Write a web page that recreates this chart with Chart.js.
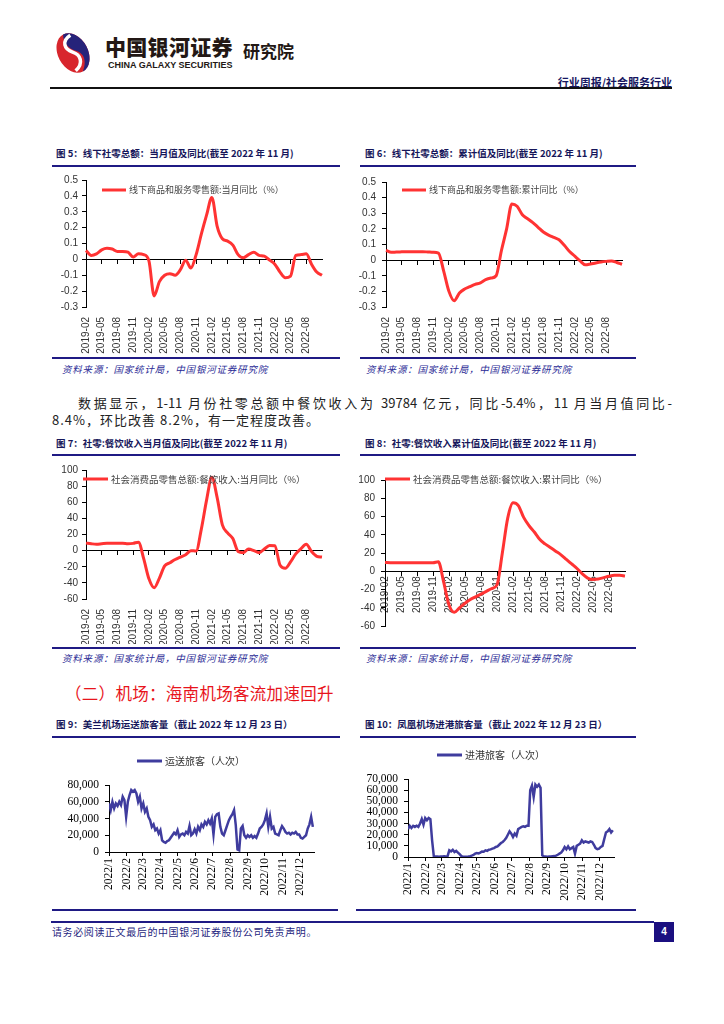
<!DOCTYPE html>
<html>
<head>
<meta charset="utf-8">
<script src="https://cdn.jsdelivr.net/npm/chart.js@4.4.0/dist/chart.umd.min.js"></script>
<style>
body { margin: 0; background: #fff; }
#page { position: relative; width: 724px; height: 1024px; overflow: hidden; font-family: "Noto Sans CJK SC", sans-serif; background: #fff; }
#page div, #page canvas, #page svg { position: absolute; }
.title { font-size: 9.5px; line-height: 13px; font-weight: bold; color: #16165a; white-space: nowrap; }
.rule { height: 2px; background: #1f1a84; }
.src { font-size: 9.5px; line-height: 12px; font-style: italic; color: #2a2a95; letter-spacing: 0.8px; white-space: nowrap; }
.para { font-size: 13px; line-height: 16px; color: #222; white-space: nowrap; letter-spacing: 1px; }
</style>
</head>
<body>
<div id="page">
  <svg style="left:50px;top:31px" width="46" height="44" viewBox="0 0 46 44">
    <g transform="rotate(-28 23 22)">
      <ellipse cx="23" cy="22" rx="15" ry="21" fill="#d8262d"/>
      <path d="M23 1 A15 21 0 0 1 23 43 C31 36 33 28 27 22 C21 16 19 8 23 1 Z" fill="#26237a"/>
      <path d="M29 5 C18 6 17 15 23 21 C29 27 28 36 17 39" stroke="#fff" stroke-width="3.5" fill="none"/>
    </g>
  </svg>
  <div style="left:105px;top:34px;font-size:21px;line-height:25px;font-weight:900;color:#231815;letter-spacing:0.3px;white-space:nowrap">中国银河证券</div>
  <div style="left:108px;top:60px;font-family:'Liberation Sans',Arial,sans-serif;font-size:9px;line-height:10px;font-weight:bold;color:#231815;white-space:nowrap">CHINA GALAXY SECURITIES</div>
  <div style="left:243px;top:41px;font-size:17px;line-height:20px;font-weight:bold;color:#231815;white-space:nowrap">研究院</div>
  <div style="right:52px;top:75px;font-size:11px;line-height:14px;font-weight:bold;color:#151560;white-space:nowrap">行业周报/社会服务行业</div>
  <div style="left:50px;top:87px;width:622px;height:2px;background:#111"></div>

  <div class="title" style="left:56px;top:147px">图 5：线下社零总额：当月值及同比(截至 2022 年 11 月)</div>
  <div class="rule" style="left:52px;top:165px;width:288px"></div>
  <div class="title" style="left:365px;top:147px">图 6：线下社零总额：累计值及同比(截至 2022 年 11 月)</div>
  <div class="rule" style="left:360px;top:165px;width:276px"></div>

  <canvas id="chart5" width="288" height="186" style="left:52px;top:170px"></canvas>
  <canvas id="chart6" width="284" height="186" style="left:356px;top:170px"></canvas>

  <div class="rule" style="left:52px;top:357px;width:288px"></div>
  <div class="src" style="left:62px;top:363px">资料来源：国家统计局，中国银河证券研究院</div>
  <div class="rule" style="left:360px;top:357px;width:276px"></div>
  <div class="src" style="left:366px;top:363px">资料来源：国家统计局，中国银河证券研究院</div>

  <div class="para" style="left:78px;top:395px;width:594px;text-align:justify;text-align-last:justify;letter-spacing:0">数据显示，1-11 月份社零总额中餐饮收入为 39784 亿元，同比-5.4%，11 月当月值同比-</div>
  <div class="para" style="left:52px;top:412px">8.4%，环比改善 8.2%，有一定程度改善。</div>

  <div class="title" style="left:56px;top:437px">图 7：社零:餐饮收入当月值及同比(截至 2022 年 11 月)</div>
  <div class="rule" style="left:52px;top:454px;width:288px"></div>
  <div class="title" style="left:365px;top:437px">图 8：社零:餐饮收入累计值及同比(截至 2022 年 11 月)</div>
  <div class="rule" style="left:360px;top:454px;width:276px"></div>

  <canvas id="chart7" width="288" height="184" style="left:52px;top:460px"></canvas>
  <canvas id="chart8" width="284" height="170" style="left:356px;top:468px"></canvas>

  <div class="rule" style="left:52px;top:647px;width:288px"></div>
  <div class="src" style="left:62px;top:652px">资料来源：国家统计局，中国银河证券研究院</div>
  <div class="rule" style="left:360px;top:647px;width:276px"></div>
  <div class="src" style="left:366px;top:652px">资料来源：国家统计局，中国银河证券研究院</div>

  <div style="left:65px;top:682px;font-size:16.5px;line-height:22px;color:#e8141c;letter-spacing:0.3px;white-space:nowrap">（二）机场：海南机场客流加速回升</div>

  <div class="title" style="left:56px;top:718px">图 9：美兰机场运送旅客量（截止 2022 年 12 月 23 日）</div>
  <div class="rule" style="left:52px;top:736px;width:288px"></div>
  <div class="title" style="left:365px;top:718px">图 10：凤凰机场进港旅客量（截止 2022 年 12 月 23 日）</div>
  <div class="rule" style="left:360px;top:736px;width:276px"></div>

  <canvas id="chart9" width="282" height="156" style="left:52px;top:742px"></canvas>
  <canvas id="chart10" width="278" height="166" style="left:362px;top:740px"></canvas>

  <div class="rule" style="left:52px;top:909px;width:286px"></div>
  <div class="rule" style="left:356px;top:909px;width:280px"></div>

  <div style="left:51px;top:921px;width:603px;height:1.5px;background:#1f1a84"></div>
  <div style="left:52px;top:925px;font-size:10px;line-height:14px;color:#1f1f80;letter-spacing:0.6px;white-space:nowrap">请务必阅读正文最后的中国银河证券股份公司免责声明。</div>
  <div style="left:654px;top:922px;width:20px;height:20px;background:#1b0f80;color:#fff;font-family:'Liberation Sans',Arial,sans-serif;font-size:10px;font-weight:bold;line-height:20px;text-align:center">4</div>
</div>

<script>
'use strict';

// monthly categories, 2019-02 .. 2022-11
var months = [
    '2019-02', '2019-03', '2019-04', '2019-05', '2019-06', '2019-07', '2019-08', '2019-09', '2019-10', '2019-11', '2019-12',
    '2020-01', '2020-02', '2020-03', '2020-04', '2020-05', '2020-06', '2020-07', '2020-08', '2020-09', '2020-10', '2020-11', '2020-12',
    '2021-01', '2021-02', '2021-03', '2021-04', '2021-05', '2021-06', '2021-07', '2021-08', '2021-09', '2021-10', '2021-11', '2021-12',
    '2022-01', '2022-02', '2022-03', '2022-04', '2022-05', '2022-06', '2022-07', '2022-08', '2022-09', '2022-10', '2022-11'
];
var lastLabelledMonth = '2022-08';

var offlineMonthlyYoY = [
    0.056, 0.025, 0.035, 0.06, 0.07, 0.065, 0.05, 0.05, 0.045, 0.015, 0.035, 0.03,
    -0.01, -0.23, -0.14, -0.1, -0.09, -0.1, -0.065, -0.005, -0.055, 0.03, 0.16, 0.28,
    0.39, 0.21, 0.13, 0.115, 0.09, 0.03, 0.01, 0.03, 0.045, 0.025, 0.02, -0.005,
    -0.03, -0.08, -0.115, -0.105, 0.025, 0.03, 0.035, -0.03, -0.08, -0.1
];

var offlineCumulativeYoY = [
    0.062, 0.05, 0.052, 0.053, 0.054, 0.054, 0.054, 0.054, 0.052, 0.05, 0.045, -0.07,
    -0.2, -0.26, -0.21, -0.185, -0.17, -0.155, -0.145, -0.125, -0.115, -0.1, 0.06, 0.2,
    0.36, 0.345, 0.29, 0.265, 0.24, 0.21, 0.18, 0.16, 0.145, 0.13, 0.095, 0.055,
    0.025, -0.005, -0.03, -0.025, -0.018, -0.012, -0.008, -0.005, -0.015, -0.027
];

var cateringMonthlyYoY = [
    9.3, 8.5, 8, 8.5, 9, 9, 9, 9, 8.5, 9, 10.5, -10,
    -35, -46, -34, -19, -15, -11, -8, -5, 0, -0.5, 27, 63,
    91, 66, 32, 22, 15, -1, -2.5, 2, 0, -2.5, 2, 6.5,
    6, -18, -22, -14, -4, 2.5, 8, -1, -7, -8
];

var cateringCumulativeYoY = [
    9.6, 9.3, 9.3, 9.3, 9.3, 9.3, 9.3, 9.3, 9.3, 9.3, 10.3, -12,
    -37, -45, -40, -35, -31, -28, -25, -22, -19, -15, 20, 58,
    75, 72, 59, 50, 43, 35, 30, 26, 22, 18, 13, 8,
    3, -3, -7.5, -9, -8.5, -7, -5.5, -4.5, -4.5, -5.3
];

// airport series: one reading every 3 days from 2022-01-01
var airportSampleStep = 3;
var airportMonthTicks = ['2022/1', '2022/2', '2022/3', '2022/4', '2022/5', '2022/6', '2022/7', '2022/8', '2022/9', '2022/10', '2022/11', '2022/12'];
var airportMonthStartDays = [0, 31, 59, 90, 120, 151, 181, 212, 243, 273, 304, 334];

var meilanPassengers = [
    58000, 50000, 60000, 52000, 58000, 55000, 60000, 56000, 66000, 62000,
    42000, 60000, 68000, 74000, 72000, 74000, 70000, 60000, 66000, 52000,
    58000, 48000, 52000, 42000, 38000, 30000, 33000, 26000, 28000, 22000,
    26000, 14000, 12000, 11000, 13000, 14000, 17000, 20000, 23000, 21000,
    26000, 18000, 21000, 22000, 20000, 24000, 22000, 31000, 20000, 22000,
    27000, 22000, 30000, 26000, 33000, 30000, 36000, 33000, 38000, 34000,
    40000, 21000, 42000, 45000, 46000, 30000, 22000, 20000, 26000, 32000,
    38000, 42000, 45000, 50000, 32000, 3000, 2000, 28000, 31000, 20000,
    17000, 20000, 18000, 20000, 17000, 19000, 17000, 22000, 28000, 30000,
    33000, 38000, 46000, 30000, 42000, 28000, 30000, 22000, 21000, 20000,
    26000, 31000, 28000, 24000, 22000, 23000, 21000, 23000, 22000, 24000,
    21000, 21000, 17000, 16000, 18000, 20000, 28000, 33000, 42000, 30000
];

var fenghuangArrivals = [
    25000, 28000, 26000, 28000, 27000, 28000, 27000, 30000, 34000, 29000,
    35000, 33000, 35000, 34000, 15000, 500, 400, 500, 300, 500,
    400, 600, 500, 800, 6000, 5000, 6500, 4500, 5500, 4000,
    2500, 800, 300, 200, 300, 500, 800, 1200, 1800, 3000,
    3500, 3200, 4000, 5000, 4800, 6000, 5500, 6500, 6800, 7500,
    8000, 9000, 9500, 11000, 12500, 13500, 15000, 17000, 20000, 23000,
    21000, 18000, 21000, 19000, 25000, 26000, 27000, 27500, 27000, 28000,
    28000, 60000, 64000, 54000, 65000, 63000, 65000, 62000, 1500, 500,
    400, 300, 500, 400, 600, 800, 1200, 2000, 3000, 4000,
    6000, 9000, 7000, 9500, 7000, 8000, 9000, 3000, 10000, 11000,
    12000, 15000, 13000, 14000, 13500, 13000, 14000, 13500, 11000, 8000,
    7000, 7500, 9000, 10000, 16000, 22000, 23000, 25000, 22000, 24000
];

Chart.defaults.font.family = '"Liberation Sans", Arial, sans-serif';
Chart.defaults.animation = false;

// legend drawn as a short line plus text at a fixed spot of the canvas
var lineLegend = {
    id: 'lineLegend',
    afterDraw: function(chart, args, opts) {
        var ctx = chart.ctx,
            ds = chart.data.datasets[0];
        ctx.save();
        ctx.strokeStyle = ds.borderColor;
        ctx.lineWidth = 3;
        ctx.beginPath();
        ctx.moveTo(opts.x, opts.y);
        ctx.lineTo(opts.x + opts.length, opts.y);
        ctx.stroke();
        ctx.fillStyle = opts.color;
        ctx.font = opts.font;
        ctx.textBaseline = 'middle';
        ctx.fillText(ds.label, opts.x + opts.length + 3, opts.y);
        ctx.restore();
    }
};

var lastLabelIndex = months.indexOf(lastLabelledMonth);

function showsLabel(index) {
    return index % 3 === 0 && index <= lastLabelIndex;
}

function tickEvery3(ctx) {
    return showsLabel(ctx.index) ? '#000' : 'rgba(0,0,0,0)';
}

function labelEvery3(value, index) {
    return showsLabel(index) ? this.getLabelForValue(value) : '';
}

function monthlyChart(id, label, values, cfg) {
    var labelFont = {size: 10},
        scales = {};

    scales.x = {
        type: 'category',
        position: cfg.labelsOnZero ? {y: 0} : 'bottom',
        border: {display: !!cfg.labelsOnZero, color: '#000'},
        grid: {display: !!cfg.labelsOnZero, drawOnChartArea: false, tickLength: 4, color: tickEvery3},
        ticks: {
            autoSkip: false, minRotation: 90, maxRotation: 90,
            padding: cfg.labelsOnZero ? 1 : 6,
            color: '#333', font: labelFont,
            callback: labelEvery3
        }
    };
    if (!cfg.labelsOnZero) {
        scales.x.afterFit = function(s) { s.height = cfg.axisHeight; };
        scales.x0 = {
            type: 'category',
            position: {y: 0},
            border: {color: '#000'},
            grid: {drawOnChartArea: false, tickLength: 4, color: tickEvery3},
            ticks: {display: false}
        };
    }
    scales.y = {
        min: cfg.min, max: cfg.max,
        border: {color: '#000'},
        grid: {drawOnChartArea: false, tickLength: 4, color: '#000'},
        ticks: {stepSize: cfg.step, autoSkip: false, padding: cfg.yPad, color: '#333', font: labelFont, callback: cfg.yFormat},
        afterFit: function(s) { s.width = cfg.yWidth; }
    };

    return new Chart(document.getElementById(id), {
        type: 'line',
        data: {
            labels: months,
            datasets: [{
                label: label,
                data: values,
                xAxisID: 'x',
                borderColor: '#ff3333',
                borderWidth: 3,
                pointRadius: 0,
                cubicInterpolationMode: 'monotone',
                fill: false
            }]
        },
        options: {
            responsive: false,
            layout: {padding: cfg.padding},
            scales: scales,
            plugins: {
                legend: {display: false},
                tooltip: {enabled: false},
                lineLegend: cfg.legend
            }
        },
        plugins: [lineLegend]
    });
}

function airportChart(id, label, values, cfg) {
    var serif = '"Liberation Serif", "Times New Roman", serif',
        points = values.map(function(v, i) { return {x: i * airportSampleStep, y: v}; });

    return new Chart(document.getElementById(id), {
        type: 'line',
        data: {
            datasets: [{
                label: label,
                data: points,
                borderColor: '#3f3c9e',
                borderWidth: 2.5,
                pointRadius: 0,
                tension: 0,
                fill: false
            }]
        },
        options: {
            responsive: false,
            layout: {padding: cfg.padding},
            scales: {
                x: {
                    type: 'linear', min: 0, max: 359,
                    afterBuildTicks: function(s) {
                        s.ticks = airportMonthStartDays.map(function(d) { return {value: d}; });
                    },
                    afterFit: function(s) { s.height = cfg.axisHeight; },
                    border: {color: '#000'},
                    grid: {drawOnChartArea: false, tickLength: 4, color: '#000'},
                    ticks: {
                        autoSkip: false, minRotation: 90, maxRotation: 90, padding: 2,
                        color: '#000', font: {family: serif, size: 11.5},
                        callback: function(v) { return airportMonthTicks[airportMonthStartDays.indexOf(v)]; }
                    }
                },
                y: {
                    min: 0, max: cfg.max,
                    border: {color: '#000'},
                    grid: {drawOnChartArea: false, tickLength: 4, color: '#000'},
                    ticks: {stepSize: cfg.step, autoSkip: false, padding: cfg.yPad, color: '#000', font: {family: serif, size: 11.5}},
                    afterFit: function(s) { s.width = cfg.yWidth; }
                }
            },
            plugins: {
                legend: {display: false},
                tooltip: {enabled: false},
                lineLegend: cfg.legend
            }
        },
        plugins: [lineLegend]
    });
}

function oneDecimal(v) {
    return String(Math.round(v * 10) / 10);
}

var smallLegendFont = '9px "Noto Sans CJK SC"',
    legendGrey = '#444';

monthlyChart('chart5', '线下商品和服务零售额:当月同比（%）', offlineMonthlyYoY, {
    min: -0.3, max: 0.5, step: 0.1, yFormat: oneDecimal, yWidth: 34, yPad: 4,
    axisHeight: 49, padding: {top: 8, right: 14, bottom: 0, left: 0},
    legend: {x: 50, y: 20, length: 24, font: smallLegendFont, color: legendGrey}
});

monthlyChart('chart6', '线下商品和服务零售额:累计同比（%）', offlineCumulativeYoY, {
    min: -0.3, max: 0.5, step: 0.1, yFormat: oneDecimal, yWidth: 30, yPad: 6,
    axisHeight: 49, padding: {top: 8, right: 15, bottom: 0, left: 0},
    legend: {x: 46, y: 20, length: 24, font: smallLegendFont, color: legendGrey}
});

monthlyChart('chart7', '社会消费品零售总额:餐饮收入:当月同比（%）', cateringMonthlyYoY, {
    min: -60, max: 100, step: 20, yWidth: 34, yPad: 4,
    axisHeight: 45, padding: {top: 8, right: 17, bottom: 0, left: 0},
    legend: {x: 31, y: 19, length: 25, font: '9.5px "Noto Sans CJK SC"', color: legendGrey}
});

monthlyChart('chart8', '社会消费品零售总额:餐饮收入:累计同比（%）', cateringCumulativeYoY, {
    min: -60, max: 100, step: 20, yWidth: 29, yPad: 6, labelsOnZero: true,
    padding: {top: 9, right: 15, bottom: 11, left: 0},
    legend: {x: 29, y: 11, length: 25, font: '9.5px "Noto Sans CJK SC"', color: legendGrey}
});

airportChart('chart9', '运送旅客（人次）', meilanPassengers, {
    max: 80000, step: 20000, yWidth: 57, yPad: 6, axisHeight: 46,
    padding: {top: 43, right: 20, bottom: 0, left: 0},
    legend: {x: 85, y: 19, length: 25, font: '10px "Noto Sans CJK SC"', color: '#333'}
});

airportChart('chart10', '进港旅客（人次）', fenghuangArrivals, {
    max: 70000, step: 10000, yWidth: 46, yPad: 6, axisHeight: 49,
    padding: {top: 39, right: 26, bottom: 0, left: 0},
    legend: {x: 75, y: 15, length: 25, font: '10px "Noto Sans CJK SC"', color: '#333'}
});
</script>
</body>
</html>
